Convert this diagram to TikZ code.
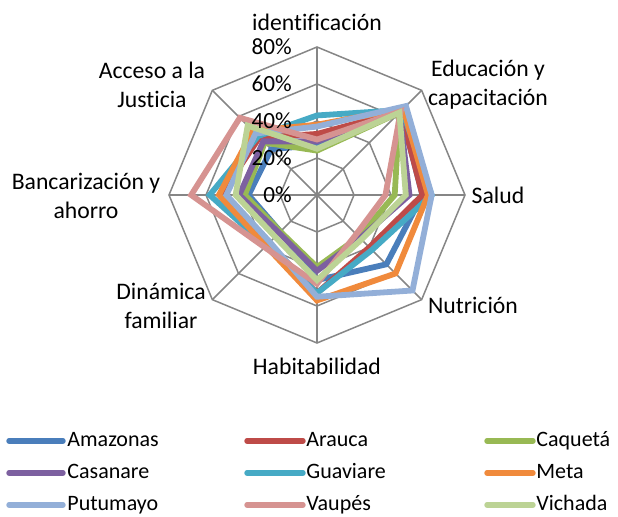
\documentclass[tikz,border=0pt]{standalone}
\usepackage{fontspec}
\setmainfont[Ligatures={NoCommon}]{Carlito}
\usepackage{xcolor}
\usepackage{tikz}
\definecolor{amazonas}{HTML}{4A7EBB}
\definecolor{arauca}{HTML}{BE4B48}
\definecolor{caqueta}{HTML}{98B954}
\definecolor{casanare}{HTML}{7D60A0}
\definecolor{guaviare}{HTML}{46AAC5}
\definecolor{meta}{HTML}{F08A3C}
\definecolor{putumayo}{HTML}{93AFD8}
\definecolor{vaupes}{HTML}{D69391}
\definecolor{vichada}{HTML}{BCD395}
\definecolor{gris}{HTML}{868686}
\tikzstyle{rejilla} = [draw=gris, line width=0.75pt]
\tikzstyle{serie} = [line width=2.9pt]
\tikzstyle{eje} = [font=\fontsize{11.85}{14.5}\selectfont, align=center, inner sep=0pt]
\tikzstyle{pct} = [font=\fontsize{11.6}{14}\selectfont, anchor=east, inner sep=0pt]
\tikzstyle{leyenda} = [font=\fontsize{11}{12}\selectfont, anchor=west, inner sep=0pt, text height=1.5ex, text depth=0.3ex]
\tikzstyle{muestra} = [line width=2.7pt, line cap=round]

\begin{document}
\begin{tikzpicture}[x=0.5pt, y=0.5pt]
\useasboundingbox (0,0) rectangle (618,516);
% radar
\begin{scope}[shift={(317,321)}, x=0.925pt, y=0.925pt]
\draw [rejilla] (90:20) -- (45:20) -- (0:20) -- (-45:20) -- (-90:20) -- (-135:20) -- (180:20) -- (135:20) -- cycle;
\draw [rejilla] (90:40) -- (45:40) -- (0:40) -- (-45:40) -- (-90:40) -- (-135:40) -- (180:40) -- (135:40) -- cycle;
\draw [rejilla] (90:60) -- (45:60) -- (0:60) -- (-45:60) -- (-90:60) -- (-135:60) -- (180:60) -- (135:60) -- cycle;
\draw [rejilla] (90:80) -- (45:80) -- (0:80) -- (-45:80) -- (-90:80) -- (-135:80) -- (180:80) -- (135:80) -- cycle;
\draw [rejilla] (90:80) -- (-90:80);
\draw [rejilla] (45:80) -- (-135:80);
\draw [rejilla] (0:80) -- (180:80);
\draw [rejilla] (135:80) -- (-45:80);
% series
\draw [serie, amazonas] (90:27) -- (45:64) -- (0:57) -- (-45:53) -- (-90:46) -- (-135:28) -- (180:37) -- (135:35) -- cycle;
\draw [serie, arauca] (90:33) -- (45:64) -- (0:57) -- (-45:40) -- (-90:53) -- (-135:37) -- (180:52) -- (135:44) -- cycle;
\draw [serie, caqueta] (90:24) -- (45:63) -- (0:42) -- (-45:32) -- (-90:39) -- (-135:28) -- (180:39) -- (135:40) -- cycle;
\draw [serie, casanare] (90:29) -- (45:63) -- (0:50) -- (-45:33) -- (-90:41) -- (-135:29) -- (180:42) -- (135:41) -- cycle;
\draw [serie, guaviare] (90:43) -- (45:65) -- (0:62) -- (-45:42) -- (-90:53) -- (-135:39) -- (180:58) -- (135:45) -- cycle;
\draw [serie, meta] (90:38) -- (45:66) -- (0:60) -- (-45:60) -- (-90:57) -- (-135:39) -- (180:53) -- (135:49) -- cycle;
\draw [serie, putumayo] (90:37) -- (45:68) -- (0:62) -- (-45:73) -- (-90:55) -- (-135:36) -- (180:49) -- (135:47) -- cycle;
\draw [serie, vaupes] (90:30) -- (45:64) -- (0:37) -- (-45:30) -- (-90:48) -- (-135:40) -- (180:68) -- (135:59) -- cycle;
\draw [serie, vichada] (90:25) -- (45:63) -- (0:48) -- (-45:34) -- (-90:46) -- (-135:32) -- (180:44) -- (135:53) -- cycle;
% escala
\node [pct] (p0) at (-13.5,0) {0\%};
\node [pct] (p20) at (-13.5,20) {20\%};
\node [pct] (p40) at (-13.5,40) {40\%};
\node [pct] (p60) at (-13.5,60) {60\%};
\node [pct] (p80) at (-13.5,80) {80\%};
\end{scope}
% ejes
\node [eje] (ident) at (317,494) {identificación};
\node [eje] (educ) at (488,431) {Educación y\\capacitación};
\node [eje] (salud) at (498,321) {Salud};
\node [eje] (nutri) at (473,211) {Nutrición};
\node [eje] (habit) at (317,150) {Habitabilidad};
\node [eje] (dinam) at (161,210) {Dinámica\\familiar};
\node [eje] (banca) at (86,320) {Bancarización y\\ahorro};
\node [eje] (acceso) at (152,431) {Acceso a la\\Justicia};
% leyenda
\draw [muestra, amazonas] (9,75) -- (63,75);
\node [leyenda] (l-amazonas) at (67,75) {Amazonas};
\draw [muestra, arauca] (247,75) -- (303,75);
\node [leyenda] (l-arauca) at (306,75) {Arauca};
\draw [muestra, caqueta] (487,75) -- (533,75);
\node [leyenda] (l-caqueta) at (536,75) {Caquetá};
\draw [muestra, casanare] (9,43) -- (63,43);
\node [leyenda] (l-casanare) at (67,43) {Casanare};
\draw [muestra, guaviare] (247,43) -- (303,43);
\node [leyenda] (l-guaviare) at (306,43) {Guaviare};
\draw [muestra, meta] (487,43) -- (533,43);
\node [leyenda] (l-meta) at (536,43) {Meta};
\draw [muestra, putumayo] (9,11) -- (63,11);
\node [leyenda] (l-putumayo) at (67,11) {Putumayo};
\draw [muestra, vaupes] (247,11) -- (303,11);
\node [leyenda] (l-vaupes) at (306,11) {Vaupés};
\draw [muestra, vichada] (487,11) -- (533,11);
\node [leyenda] (l-vichada) at (536,11) {Vichada};
\end{tikzpicture}
\end{document}
